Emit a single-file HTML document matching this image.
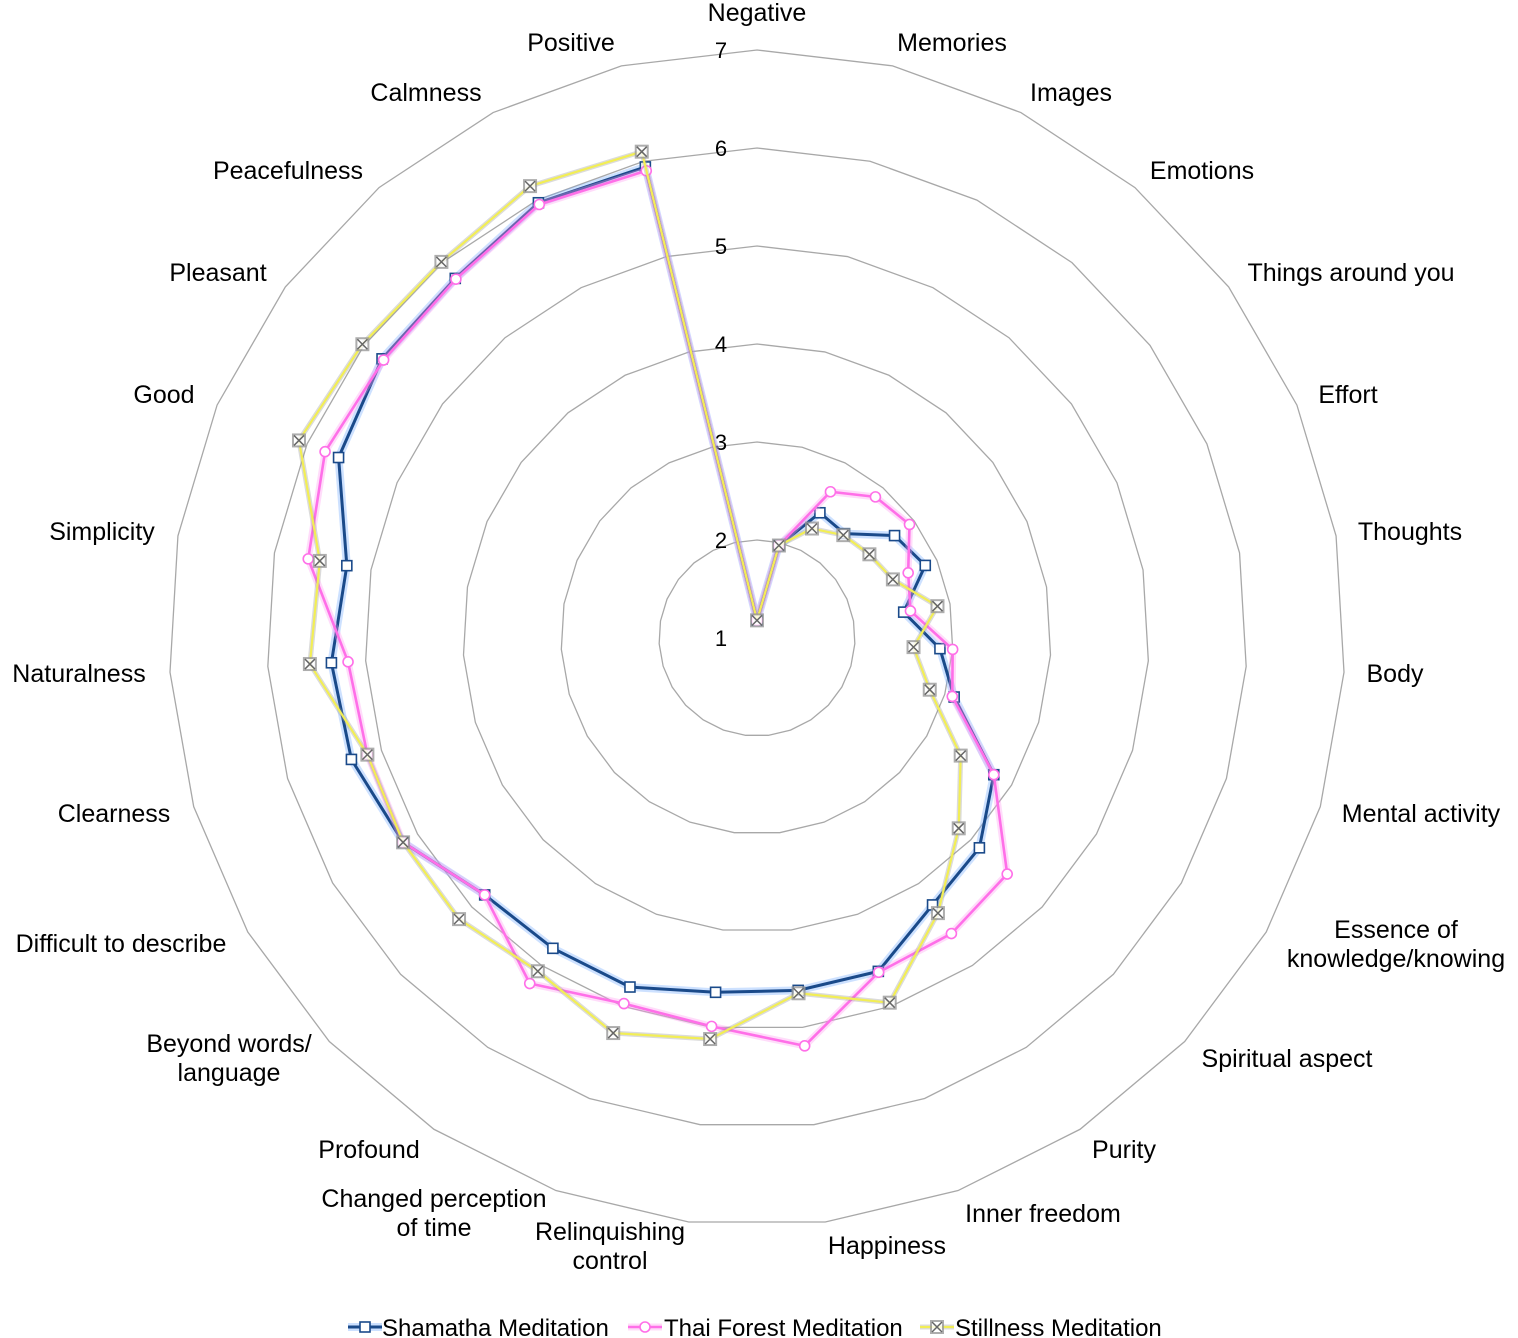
<!DOCTYPE html>
<html><head><meta charset="utf-8"><style>
body{margin:0;background:#fff;}
svg{display:block;font-family:"Liberation Sans",Arial,sans-serif;}
</style></head><body>
<svg id="chart" width="1518" height="1338" viewBox="0 0 1518 1338">
<g id="grid"></g>
<g id="labels"></g>
<g id="ticks"></g>
<g id="series"></g>
<g id="legend"></g>
</svg>
<script>
const categories=["Negative","Memories","Images","Emotions","Things around you","Effort","Thoughts","Body","Mental activity","Essence of|knowledge/knowing","Spiritual aspect","Purity","Inner freedom","Happiness","Relinquishing|control","Changed perception|of time","Profound","Beyond words/|language","Difficult to describe","Clearness","Naturalness","Simplicity","Good","Pleasant","Peacefulness","Calmness","Positive"];
const shamatha=[1.18,1.97,2.43,2.39,2.75,2.87,2.52,2.87,3.1,3.79,4.12,4.26,4.62,4.62,4.64,4.79,4.79,4.82,5.17,5.32,5.35,5.25,5.65,5.77,5.79,5.97,5.94];
const thaiForest=[1.18,1.97,2.67,2.88,2.94,2.68,2.59,3.0,3.08,3.79,4.51,4.61,4.63,5.19,4.99,4.97,5.22,4.82,5.17,5.15,5.18,5.65,5.8,5.75,5.78,5.95,5.9];
const stillness=[1.18,1.97,2.25,2.37,2.43,2.51,2.87,2.6,2.84,3.4,3.83,4.36,4.96,4.65,5.12,5.29,5.07,5.18,5.17,5.15,5.57,5.53,6.09,6.02,6.01,6.16,6.1];
const tickValues=[1,2,3,4,5,6,7];
const seriesNames=["Shamatha Meditation","Thai Forest Meditation","Stillness Meditation"];
const labelPos=[[757,12],[952,42],[1071,92],[1202,170],[1351,272],[1348,394],[1410,531],[1395,673],[1421,813],[1396,929],[1287,1058],[1124,1149],[1043,1213],[887,1245],[610,1231],[434,1198],[369,1149],[229,1043],[121,943],[114,813],[79,673],[102,531],[164,394],[218,272],[288,170],[426,92],[571,42]];

const NS="http://www.w3.org/2000/svg";
const cx=757,cy=638,unit=98,minV=1;
function rad(v){return (v-minV)*unit;}
function ang(i){return i*2*Math.PI/categories.length;}
function pt(i,v){const a=ang(i),r=rad(v);return [cx+r*Math.sin(a),cy-r*Math.cos(a)];}
function mk(tag,attrs,parent){const e=document.createElementNS(NS,tag);for(const k in attrs)e.setAttribute(k,attrs[k]);parent.appendChild(e);return e;}

const grid=document.getElementById('grid');
tickValues.slice(1).forEach(t=>{
  const pts=categories.map((c,i)=>pt(i,t).join(',')).join(' ');
  const p=mk('polygon',{points:pts,fill:'none',stroke:'#a8a8a8','stroke-width':1.3},grid);
  
  
});
const ticks=document.getElementById('ticks');
tickValues.forEach(t=>{
  const tx=mk('text',{x:721,y:cy-rad(t)+8,'font-size':22,'text-anchor':'middle',fill:'#000'},ticks);
  tx.textContent=t;
  
  
});
const labels=document.getElementById('labels');
categories.forEach((c,i)=>{
  const lines=c.split('|');const [x,y]=labelPos[i];
  lines.forEach((ln,j)=>{
    const tx=mk('text',{x:x,y:y+9+j*29,'font-size':25,'text-anchor':'middle',fill:'#000'},labels);
    tx.textContent=ln;
    
    
  });
});

const styles=[{line:'#1a4a8a',glow:'#6fa8ff',marker:'square',mstroke:'#1a4a8a',w:3,gw:8},
{line:'#ff6fe8',glow:'#ff9cf0',marker:'circle',mstroke:'#ff6fe8',w:2.6,gw:7},
{line:'#f2ee55',glow:'#999',marker:'cross',mstroke:'#777',w:2.2,gw:5}];
const allData=[shamatha,thaiForest,stillness];
const sg=document.getElementById('series');
function marker(g,type,x,y,st){
  let m;
  if(type==='square'){m=mk('rect',{x:x-5,y:y-5,width:10,height:10,fill:'#fff',stroke:st.mstroke,'stroke-width':1.6},g);}
  else if(type==='circle'){m=mk('circle',{cx:x,cy:y,r:5,fill:'#fff',stroke:st.mstroke,'stroke-width':1.6},g);}
  else{m=mk('g',{},g);
    mk('rect',{x:x-6,y:y-6,width:12,height:12,fill:'#fff',stroke:'#999','stroke-width':2,opacity:0.8},m);
    mk('path',{d:`M${x-5} ${y-5}L${x+5} ${y+5}M${x+5} ${y-5}L${x-5} ${y+5}`,stroke:'#666','stroke-width':1.5},m);}
  
  
}
allData.forEach((data,s)=>{
  const st=styles[s];
  const g=mk('g',{},sg);
  
  
  const pts=data.map((v,i)=>pt(i,v));
  const ps=pts.map(p=>p.join(',')).join(' ');
  mk('polygon',{points:ps,fill:'none',stroke:st.glow,'stroke-width':st.gw,opacity:0.35,'stroke-linejoin':'round'},g);
  mk('polygon',{points:ps,fill:'none',stroke:st.line,'stroke-width':st.w,'stroke-linejoin':'round'},g);
  pts.forEach(p=>marker(g,st.marker,p[0],p[1],st));
});

const lg=document.getElementById('legend');
const lx=[[348,382],[628,664],[920,955]];
seriesNames.forEach((n,s)=>{
  const st=styles[s];
  const g=mk('g',{},lg);
  
  
  const y=1327;
  mk('line',{x1:lx[s][0],y1:y,x2:lx[s][0]+34,y2:y,stroke:st.glow,'stroke-width':st.gw,opacity:0.35},g);
  mk('line',{x1:lx[s][0],y1:y,x2:lx[s][0]+34,y2:y,stroke:st.line,'stroke-width':st.w},g);
  marker(g,st.marker,lx[s][0]+17,y,st);
  const t=mk('text',{x:lx[s][1],y:y+9,'font-size':24,fill:'#000'},g);
  t.textContent=n;
});
</script>
</body></html>
